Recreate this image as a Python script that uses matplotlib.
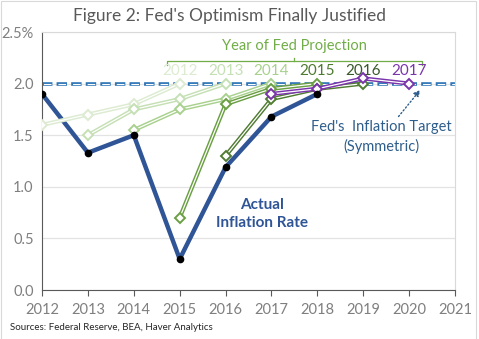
import numpy as np
import matplotlib.pyplot as plt
from matplotlib.lines import Line2D
from matplotlib.patches import Rectangle

plt.rcParams['font.family'] = ['Lato', 'DejaVu Sans']
plt.rcParams['lines.scale_dashes'] = False

# Actual inflation (core PCE, %)
actual_years = [2012, 2013, 2014, 2015, 2016, 2017, 2018]
actual = [1.9, 1.33, 1.5, 0.3, 1.19, 1.68, 1.9]

# Fed projections by year they were made
p2012_years = [2012, 2013, 2014, 2015]
p2012 = [1.6, 1.7, 1.8, 2.0]
p2013_years = [2013, 2014, 2015, 2016]
p2013 = [1.5, 1.75, 1.85, 2.0]
p2014_years = [2014, 2015, 2016, 2017]
p2014 = [1.55, 1.75, 1.85, 2.0]
p2015_years = [2015, 2016, 2017, 2018]
p2015 = [0.7, 1.8, 1.95, 2.0]
p2016_years = [2016, 2017, 2018, 2019]
p2016 = [1.3, 1.85, 1.95, 2.0]
p2017_years = [2017, 2018, 2019, 2020]
p2017 = [1.9, 1.95, 2.05, 2.0]

proj_labels = ['2012', '2013', '2014', '2015', '2016', '2017']
label_x = [2015, 2016, 2017, 2018, 2019, 2020]
target = 2.0

line_colors = ['#dcebd1', '#c5e0b4', '#a9d18e', '#6b9f44', '#507c33', '#7a35ab']
label_colors = ['#dcebd1', '#c5e0b4', '#a9d18e', '#4f7a30', '#38582a', '#7a35ab']

fig = plt.figure(figsize=(4.79, 3.39), dpi=100)
ax = fig.add_axes([0.0877, 0.1445, 0.8623, 0.7611])

# light frame around the whole figure
fig.patches.append(Rectangle((1 / 479, -0.01), 475 / 479, 1.01 - 1.5 / 339,
                             transform=fig.transFigure, fill=False,
                             edgecolor='#d9d9d9', lw=0.8))

ax.set_xlim(2012, 2021)
ax.set_ylim(0, 2.5)
ax.set_yticks(np.arange(0, 2.51, 0.5))
ax.set_yticklabels(['0.0', '0.5', '1.0', '1.5', '2.0', '2.5%'])
ax.set_xticks(range(2012, 2022))
ax.tick_params(axis='both', colors='#7f7f7f', labelsize=10.5)
ax.tick_params(axis='y', length=0, pad=6)
ax.tick_params(axis='x', length=4, color='#595959', pad=5)
ax.grid(axis='y', color='#e3e3e3', lw=0.9)
ax.set_axisbelow(True)
for s in ['top', 'right']:
    ax.spines[s].set_color('#d9d9d9')
ax.spines['left'].set_color('#595959')
ax.spines['bottom'].set_color('#595959')

# target line (double dash)
ax.axhline(target, color='#2e75b6', lw=2.6, dashes=(7.5, 3), zorder=2)
ax.axhline(target, color='white', lw=0.8, ls=(9.5, (5.5, 5.0)), zorder=2.1)

# actual
ax.plot(actual_years, actual, color='#2f5597', lw=3.2, zorder=3)
ax.plot(actual_years, actual, 'o', color='black', ms=4.5, zorder=6)

series = [(p2012_years, p2012), (p2013_years, p2013), (p2014_years, p2014),
          (p2015_years, p2015), (p2016_years, p2016), (p2017_years, p2017)]
for i, (xs, ys) in enumerate(series):
    c = line_colors[i]
    ax.plot(xs, ys, color=c, lw=3.0, zorder=4 + i * 0.1)
    ax.plot(xs, ys, color='white', lw=0.9, zorder=4.02 + i * 0.1)
    ax.plot(xs, ys, 'D', ms=5.5, mfc='white', mec=c, mew=1.4, ls='none', zorder=4.05 + i * 0.1)

# projection year labels
for x, t, c in zip(label_x, proj_labels, label_colors):
    ax.text(x, 2.12, t, color=c, fontsize=11, ha='center', va='center')

ax.text(2017.5, 2.36, 'Year of Fed Projection', color='#70ad47', fontsize=10.5,
        ha='center', va='center')
bx0, bx1, by = 2014.72, 2020.28, 2.215
bracket = Line2D([bx0, bx0, bx1, bx1], [by - 0.03, by, by, by - 0.03],
                 color='#70ad47', lw=0.9, transform=ax.transData)
ax.add_line(bracket)
ax.plot([2017.5, 2017.5], [by, by + 0.03], color='#70ad47', lw=0.9)

ax.text(2019.4, 1.58, "Fed's  Inflation Target", color='#2e5e8c', fontsize=10.5,
        ha='center', va='center')
ax.text(2019.4, 1.39, '(Symmetric)', color='#2e5e8c', fontsize=10.5,
        ha='center', va='center')
ax.annotate('', xy=(2020.28, 1.96), xytext=(2019.73, 1.66),
            arrowprops=dict(arrowstyle='-|>', color='#2e5e8c', lw=1.0,
                            ls=':', mutation_scale=9))

ax.text(2016.8, 0.825, 'Actual', color='#2f5597', fontsize=11, fontweight='bold',
        ha='center', va='center')
ax.text(2016.8, 0.65, 'Inflation Rate', color='#2f5597', fontsize=11, fontweight='bold',
        ha='center', va='center')

fig.text(0.48, 0.952, "Figure 2: Fed's Optimism Finally Justified", color='#595959',
         fontsize=12.5, ha='center', va='center')
fig.text(0.021, 0.035, 'Sources: Federal Reserve, BEA, Haver Analytics', color='#262626',
         fontsize=7, ha='left', va='center')

fig.savefig('out.png', dpi=100)
